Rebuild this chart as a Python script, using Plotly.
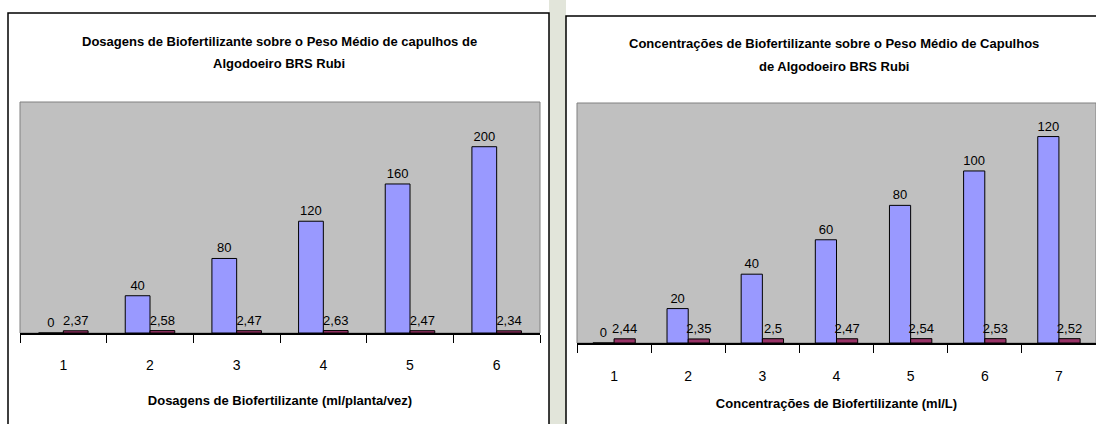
import plotly.graph_objects as go

W, H = 1096, 424

# ---- data ----
left_categories = ["1", "2", "3", "4", "5", "6"]
left_doses = [0, 40, 80, 120, 160, 200]
left_weights = [2.37, 2.58, 2.47, 2.63, 2.47, 2.34]

right_categories = ["1", "2", "3", "4", "5", "6", "7"]
right_conc = [0, 20, 40, 60, 80, 100, 120]
right_weights = [2.44, 2.35, 2.5, 2.47, 2.54, 2.53, 2.52]

left_title_lines = ["Dosagens de Biofertilizante sobre o Peso Médio de capulhos de", "Algodoeiro BRS Rubi"]
right_title_lines = ["Concentrações de Biofertilizante sobre o Peso Médio de Capulhos", "de Algodoeiro BRS Rubi"]
left_xtitle = "Dosagens de Biofertilizante (ml/planta/vez)"
right_xtitle = "Concentrações de Biofertilizante (ml/L)"

BLUE = "#9999FF"
RED = "#993366"
FONT = "Liberation Sans, Arial, sans-serif"


def fmt(v):
    return str(v).replace(".", ",")


def px(x):
    return x / W


def py(y):
    return 1 - y / H


fig = go.Figure()

common = dict(marker_line_color="black", marker_line_width=1, textposition="outside",
              cliponaxis=False, constraintext="none", textfont=dict(size=13, color="black", family=FONT),
              showlegend=False, hoverinfo="skip")

fig.add_trace(go.Bar(x=left_categories, y=left_doses, text=[fmt(v) for v in left_doses],
                     marker_color=BLUE, xaxis="x", yaxis="y", **common))
fig.add_trace(go.Bar(x=left_categories, y=left_weights, text=[fmt(v) for v in left_weights],
                     marker_color=RED, xaxis="x", yaxis="y", **common))
fig.add_trace(go.Bar(x=right_categories, y=right_conc, text=[fmt(v) for v in right_conc],
                     marker_color=BLUE, xaxis="x2", yaxis="y2", **common))
fig.add_trace(go.Bar(x=right_categories, y=right_weights, text=[fmt(v) for v in right_weights],
                     marker_color=RED, xaxis="x2", yaxis="y2", **common))

xcommon = dict(type="category", showline=True, linecolor="black", linewidth=1.5,
               ticks="outside", tickson="boundaries", ticklen=8, tickcolor="black", tickwidth=1,
               tickfont=dict(size=14, color="black", family=FONT),
               showgrid=False, zeroline=False, fixedrange=True)
ycommon = dict(visible=False, showgrid=False, zeroline=False, fixedrange=True)

fig.update_layout(
    width=W, height=H,
    margin=dict(l=0, r=0, t=0, b=0),
    paper_bgcolor="white",
    plot_bgcolor="#C0C0C0",
    barmode="group", bargap=0.4286, bargroupgap=0,
    font=dict(family=FONT, color="black"),
    xaxis=dict(domain=[px(20), px(540)], anchor="y", ticklabelstandoff=18,
               title=dict(text=left_xtitle, font=dict(size=13, family=FONT, weight="bold"), standoff=24),
               **xcommon),
    yaxis=dict(domain=[py(333), py(102)], anchor="x", range=[0, 248], **ycommon),
    xaxis2=dict(domain=[px(577), 1.0], anchor="y2", ticklabelstandoff=19,
                title=dict(text=right_xtitle, font=dict(size=13, family=FONT, weight="bold"), standoff=16),
                **xcommon),
    yaxis2=dict(domain=[py(343), py(103)], anchor="x2", range=[0, 139.5], **ycommon),
)

shapes = []
# faint background between the two chart boxes (watermark region)
shapes.append(dict(type="rect", xref="paper", yref="paper", x0=px(549), x1=px(566), y0=0, y1=1,
                   fillcolor="#E2E5DA", line=dict(width=0), layer="below"))
# chart boxes
shapes.append(dict(type="rect", xref="paper", yref="paper", x0=px(8), x1=px(549), y0=py(440), y1=py(13),
                   line=dict(color="black", width=1.5), fillcolor="rgba(0,0,0,0)", layer="above"))
shapes.append(dict(type="rect", xref="paper", yref="paper", x0=px(566), x1=px(1110), y0=py(440), y1=py(16),
                   line=dict(color="black", width=1.5), fillcolor="rgba(0,0,0,0)", layer="above"))
# plot-area borders
for xr, yr in (("x domain", "y domain"), ("x2 domain", "y2 domain")):
    shapes.append(dict(type="rect", xref=xr, yref=yr, x0=0, x1=1, y0=0, y1=1,
                       line=dict(color="#808080", width=1), fillcolor="rgba(0,0,0,0)", layer="below"))
fig.update_layout(shapes=shapes)

for lines, cx, ys in ((left_title_lines, 279, (41, 64)), (right_title_lines, 834, (44, 67))):
    for line, yy in zip(lines, ys):
        fig.add_annotation(text=line, xref="paper", yref="paper", x=px(cx), y=py(yy),
                           xanchor="center", yanchor="middle", showarrow=False,
                           font=dict(size=13, family=FONT, weight="bold", color="black"))

fig.write_html("out.html")
